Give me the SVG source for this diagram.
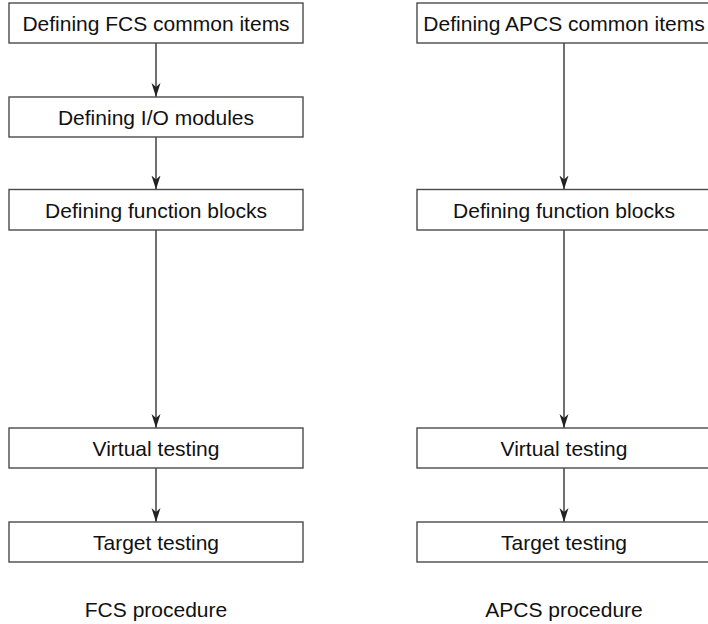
<svg xmlns="http://www.w3.org/2000/svg" width="708" height="624" viewBox="0 0 708 624">
<defs>
<style>
.box{fill:#fff;stroke:#4a4a4a;stroke-width:1.4}
.lbl{font-family:"Liberation Sans",Arial,sans-serif;font-size:21px;fill:#111;text-anchor:middle}
.edge{stroke:#222;stroke-width:1.3;fill:none;marker-end:url(#ah)}
</style>
<marker id="ah" viewBox="-14 -5 14 10" refX="0" refY="0" markerWidth="14" markerHeight="10" markerUnits="userSpaceOnUse" orient="auto">
<path d="M0,0 L-14,-4.5 L-10,0 L-14,4.5 Z" fill="#222"/>
</marker>
</defs>
<rect width="708" height="624" fill="#fff"/>
<g id="connectors">
<line class="edge" x1="156" y1="43" x2="156" y2="97"/>
<line class="edge" x1="156" y1="137" x2="156" y2="189.5"/>
<line class="edge" x1="156" y1="230" x2="156" y2="428"/>
<line class="edge" x1="156" y1="468" x2="156" y2="522"/>
<line class="edge" x1="564" y1="43" x2="564" y2="189.5"/>
<line class="edge" x1="564" y1="230" x2="564" y2="428"/>
<line class="edge" x1="564" y1="468" x2="564" y2="522"/>
</g>
<g id="fcs-common"><rect class="box" x="9" y="3" width="294" height="40"/><text class="lbl" x="156" y="31">Defining FCS common items</text></g>
<g id="fcs-io"><rect class="box" x="9" y="97" width="294" height="40"/><text class="lbl" x="156" y="125">Defining I/O modules</text></g>
<g id="fcs-fb"><rect class="box" x="9" y="189.5" width="294" height="40.5"/><text class="lbl" x="156" y="218">Defining function blocks</text></g>
<g id="fcs-virtual"><rect class="box" x="9" y="428" width="294" height="40"/><text class="lbl" x="156" y="456">Virtual testing</text></g>
<g id="fcs-target"><rect class="box" x="9" y="522" width="294" height="40"/><text class="lbl" x="156" y="550">Target testing</text></g>
<g id="apcs-common"><rect class="box" x="417" y="3" width="294" height="40"/><text class="lbl" x="564" y="31">Defining APCS common items</text></g>
<g id="apcs-fb"><rect class="box" x="417" y="189.5" width="294" height="40.5"/><text class="lbl" x="564" y="218">Defining function blocks</text></g>
<g id="apcs-virtual"><rect class="box" x="417" y="428" width="294" height="40"/><text class="lbl" x="564" y="456">Virtual testing</text></g>
<g id="apcs-target"><rect class="box" x="417" y="522" width="294" height="40"/><text class="lbl" x="564" y="550">Target testing</text></g>
<g id="captions">
<text class="lbl" x="156" y="617">FCS procedure</text>
<text class="lbl" x="564" y="617">APCS procedure</text>
</g>
</svg>
